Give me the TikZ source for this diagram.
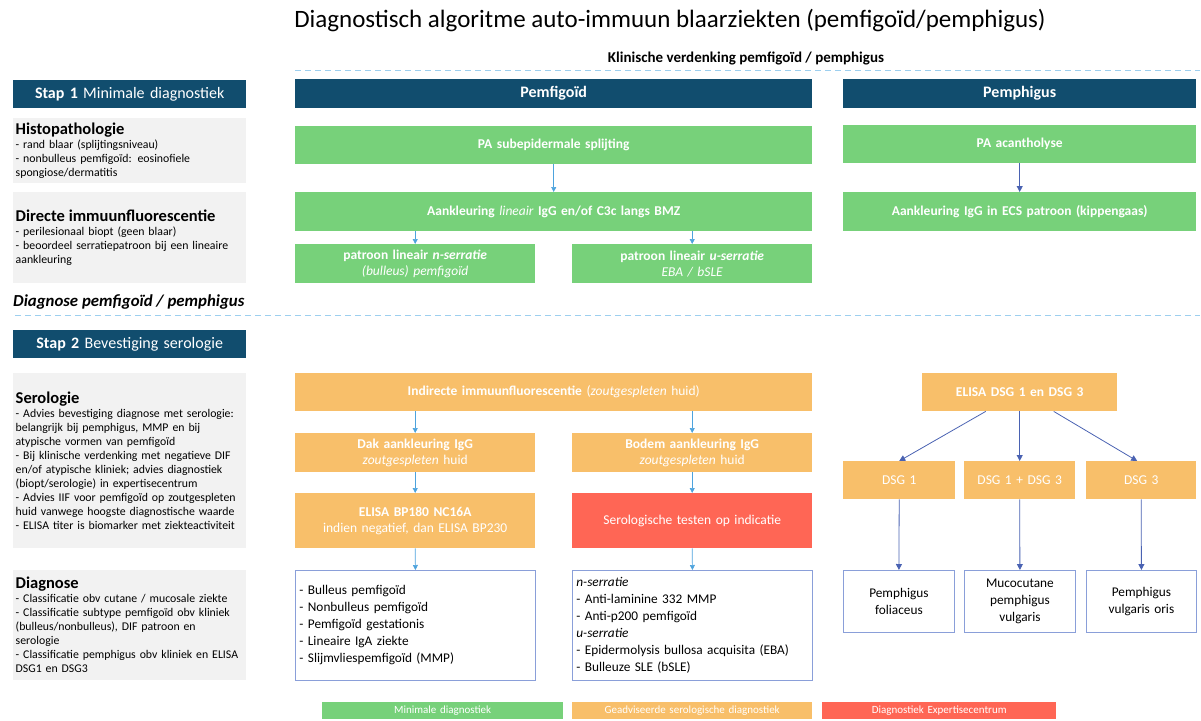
\documentclass[tikz,border=0pt]{standalone}
\usepackage{fontspec}
\setmainfont{Carlito}
\usetikzlibrary{arrows.meta}
\definecolor{dblue}{HTML}{114D6E}
\definecolor{mgreen}{HTML}{77D17A}
\definecolor{morange}{HTML}{F8BF6A}
\definecolor{mred}{HTML}{FF6655}
\definecolor{lgray}{HTML}{F2F2F2}
\definecolor{arrlight}{HTML}{4DA3DD}
\definecolor{arrdark}{HTML}{4A62B2}
\definecolor{wborder}{HTML}{8A9FD9}
\definecolor{dashblue}{HTML}{9DCFEF}
\newcommand{\fs}[2]{\fontsize{#1}{#2}\selectfont}
\tikzset{
  sz/.style 2 args={minimum width=#1, minimum height=#2, text width=#1, inner xsep=0pt, inner ysep=0pt},
  fb/.style={anchor=north west, align=center, text=white, font=\fs{13.5}{16}\bfseries},
  hdr/.style={fb, fill=dblue, font=\fs{16}{18}\bfseries},
  gbox/.style={fb, fill=mgreen},
  obox/.style={fb, fill=morange},
  rbox/.style={fb, fill=mred, font=\fs{13.5}{16}},
  wbox/.style={anchor=north west, draw=wborder, line width=0.8pt, fill=white, text=black, font=\fs{13.3}{17}},
  graybox/.style={anchor=north west, fill=lgray, align=left, minimum width=233pt, text width=228pt, inner xsep=2.5pt, inner ysep=0pt, font=\fs{11.8}{14}},
  larr/.style={draw=arrlight, line width=0.7pt, -{Triangle[length=5pt,width=5pt]}},
  darr/.style={draw=arrdark, line width=0.8pt, -{Triangle[length=6pt,width=6pt]}},
  legbox/.style={anchor=north west, text=white, font=\fs{11}{13}, align=center},
  dashline/.style={draw=dashblue, line width=1pt, dash pattern=on 6pt off 4pt},
}
\begin{document}
\begin{tikzpicture}[x=1pt,y=-1pt]
\useasboundingbox (0,0) rectangle (1201,720);

% title and headings
\node (title) at (670,21) {\fs{25}{29}Diagnostisch algoritme auto-immuun blaarziekten (pemfigoïd/pemphigus)};
\node (klin) at (746,58) {\fs{15}{18}\bfseries Klinische verdenking pemfigoïd / pemphigus};
\coordinate (d1a) at (295,70);
\coordinate (d1b) at (1200,70);
\draw[dashline] (d1a) -- (d1b);
\node[anchor=west, inner sep=0pt] (diaglbl) at (13,302) {\fs{16.8}{19}\bfseries\itshape Diagnose pemfigoïd / pemphigus};
\coordinate (d2a) at (15,315);
\coordinate (d2b) at (1200,315);
\draw[dashline] (d2a) -- (d2b);

% left column
\node[hdr, sz={233pt}{28pt}, font=\fs{16}{18}] (stap1) at (13,80) {\textbf{Stap 1} Minimale diagnostiek};
\node[graybox, minimum height=65pt] (histo) at (13,118) {{\fs{16.5}{19}\bfseries Histopathologie}\\
- rand blaar (splijtingsniveau)\\
- nonbulleus pemfigoïd: eosinofiele\\
spongiose/dermatitis};
\node[graybox, minimum height=91pt] (dif) at (13,192) {{\fs{16.5}{19}\bfseries Directe immuunfluorescentie}\\
- perilesionaal biopt (geen blaar)\\
- beoordeel serratiepatroon bij een lineaire\\
aankleuring};
\node[hdr, sz={233pt}{28pt}, font=\fs{16}{18}] (stap2) at (13,330) {\textbf{Stap 2} Bevestiging serologie};
\node[graybox, minimum height=175pt] (sero) at (13,373) {{\fs{16.5}{19}\bfseries Serologie}\\
- Advies bevestiging diagnose met serologie:\\
belangrijk bij pemphigus, MMP en bij\\
atypische vormen van pemfigoïd\\
- Bij klinische verdenking met negatieve DIF\\
en/of atypische kliniek; advies diagnostiek\\
(biopt/serologie) in expertisecentrum\\
- Advies IIF voor pemfigoïd op zoutgespleten\\
huid vanwege hoogste diagnostische waarde\\
- ELISA titer is biomarker met ziekteactiviteit};
\node[graybox, minimum height=110pt] (diagnose) at (13,570) {{\fs{16.5}{19}\bfseries Diagnose}\\
- Classificatie obv cutane / mucosale ziekte\\
- Classificatie subtype pemfigoïd obv kliniek\\
(bulleus/nonbulleus), DIF patroon en\\
serologie\\
- Classificatie pemphigus obv kliniek en ELISA\\
DSG1 en DSG3};

% stap 1 main
\node[hdr, sz={517pt}{29pt}] (pemfh) at (295,79) {Pemfigoïd};
\node[hdr, sz={353pt}{29pt}] (pemph) at (843,79) {Pemphigus};
\node[gbox, sz={517pt}{38pt}] (pasub) at (295,126) {PA subepidermale splijting};
\node[gbox, sz={517pt}{39pt}] (aank) at (295,192) {Aankleuring {\mdseries\itshape lineair} IgG en/of C3c langs BMZ};
\node[gbox, sz={240pt}{39pt}] (patn) at (295,244) {patroon lineair \textit{n-serratie}\\{\mdseries\itshape (bulleus) pemfigoïd}};
\node[gbox, sz={240pt}{39pt}] (patu) at (572,244) {patroon lineair \textit{u-serratie}\\{\mdseries\itshape EBA / bSLE}};
\node[gbox, sz={353pt}{38pt}] (paac) at (843,125) {PA acantholyse};
\node[gbox, sz={353pt}{39pt}] (aecs) at (843,192) {Aankleuring IgG in ECS patroon (kippengaas)};

\draw[larr] (pasub.south) -- (aank.north);
\draw[larr] (aank.south -| patn.north) -- (patn.north);
\draw[larr] (aank.south -| patu.north) -- (patu.north);
\draw[darr] (paac.south) -- (aecs.north);

% stap 2 main
\node[obox, sz={517pt}{38pt}] (iif) at (295,373) {Indirecte immuunfluorescentie {\mdseries(\textit{zoutgespleten} huid)}};
\node[obox, sz={240pt}{39pt}] (dak) at (295,433) {Dak aankleuring IgG\\{\mdseries\textit{zoutgespleten} huid}};
\node[obox, sz={240pt}{39pt}] (bodem) at (572,433) {Bodem aankleuring IgG\\{\mdseries\textit{zoutgespleten} huid}};
\node[obox, sz={240pt}{55pt}] (elisabp) at (295,493) {ELISA BP180 NC16A\\{\mdseries indien negatief, dan ELISA BP230}};
\node[rbox, sz={240pt}{55pt}] (serotest) at (572,493) {Serologische testen op indicatie};
\node[wbox, align=left, minimum width=240pt, minimum height=110pt, text width=232pt, inner xsep=4pt, inner ysep=0pt] (list1) at (295,570) {- Bulleus pemfigoïd\\
- Nonbulleus pemfigoïd\\
- Pemfigoïd gestationis\\
- Lineaire IgA ziekte\\
- Slijmvliespemfigoïd (MMP)};
\node[wbox, align=left, minimum width=240pt, minimum height=110pt, text width=232pt, inner xsep=4pt, inner ysep=0pt] (list2) at (572,570) {\textit{n-serratie}\\
- Anti-laminine 332 MMP\\
- Anti-p200 pemfigoïd\\
\textit{u-serratie}\\
- Epidermolysis bullosa acquisita (EBA)\\
- Bulleuze SLE (bSLE)};

\draw[larr] (iif.south -| dak.north) -- (dak.north);
\draw[larr] (iif.south -| bodem.north) -- (bodem.north);
\draw[larr] (dak.south) -- (elisabp.north);
\draw[larr] (bodem.south) -- (serotest.north);
\draw[larr] (elisabp.south) -- (list1.north);
\draw[larr] (serotest.south) -- (list2.north);

% pemphigus serology
\node[obox, sz={195pt}{38pt}] (elisadsg) at (922,373) {ELISA DSG 1 en DSG 3};
\node[obox, sz={112pt}{38pt}, font=\fs{13.5}{16}] (dsg1) at (843,461) {DSG 1};
\node[obox, sz={111pt}{38pt}, font=\fs{13.5}{16}] (dsg13) at (964,461) {DSG 1 + DSG 3};
\node[obox, sz={110pt}{38pt}, font=\fs{13.5}{16}] (dsg3) at (1086,461) {DSG 3};
\node[wbox, align=center, sz={111pt}{62pt}] (pf) at (843,570) {Pemphigus\\foliaceus};
\node[wbox, align=center, sz={111pt}{62pt}] (mpv) at (964,570) {Mucocutane\\pemphigus\\vulgaris};
\node[wbox, align=center, sz={110pt}{62pt}] (pvo) at (1086,570) {Pemphigus\\vulgaris oris};

\draw[darr] ([xshift=-34pt]elisadsg.south) -- (dsg1.north);
\draw[darr] (elisadsg.south) -- (dsg13.north);
\draw[darr] ([xshift=34pt]elisadsg.south) -- ([xshift=-4pt]dsg3.north);
\draw[darr] (dsg1.south) -- (pf.north);
\draw[darr] (dsg13.south) -- (mpv.north);
\draw[darr] (dsg3.south) -- (pvo.north);

% legend
\node[legbox, fill=mgreen, sz={241pt}{17pt}] (leg1) at (322,702) {Minimale diagnostiek};
\node[legbox, fill=morange, sz={240pt}{17pt}] (leg2) at (572,702) {Geadviseerde serologische diagnostiek};
\node[legbox, fill=mred, sz={234pt}{17pt}] (leg3) at (822,702) {Diagnostiek Expertisecentrum};
\end{tikzpicture}
\end{document}
